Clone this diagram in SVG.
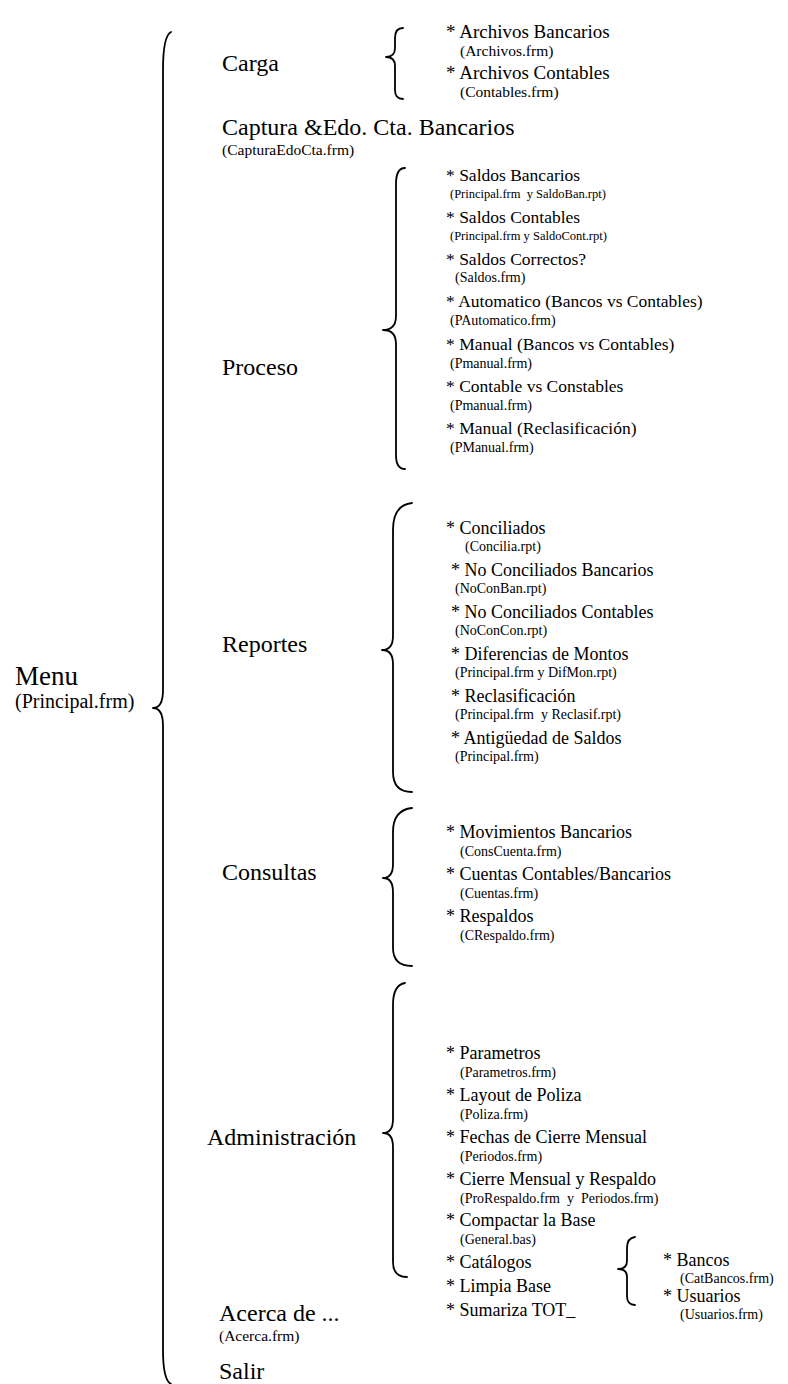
<svg xmlns="http://www.w3.org/2000/svg" width="788" height="1384" viewBox="0 0 788 1384">
  <style>
    text { font-family: "Liberation Serif", "Times New Roman", serif; fill: #000; }
    .root { font-size: 27px; }
    .rootsub { font-size: 20px; }
    .l1 { font-size: 24px; }
    .l1sub { font-size: 15.5px; }
    .leaf { font-size: 18px; }
    .leaf-lg { font-size: 19px; }
    .leaf-sm { font-size: 17.5px; }
    .sub { font-size: 14px; }
    .sub-sm { font-size: 12.5px; }
    .brace { fill: none; stroke: #000; stroke-width: 1.8; stroke-linecap: round; stroke-linejoin: round; }
  </style>
  <rect width="788" height="1384" fill="#fff"/>

  <!-- braces -->
  <g id="connectors">
    <path class="brace" d="M171,32 Q163,36 163,70 L163,690 Q163,708 153,708 Q163,708 163,726 L163,1350 Q163,1380 171,1384"/>
    <path class="brace" d="M403,28 Q395,28 395,38 L395,48 Q395,57 386,57 Q395,57 395,66 L395,90 Q395,99 403,99"/>
    <path class="brace" d="M405,168 Q396,168 396,184 L396,316 Q396,330 383,330 Q396,330 396,344 L396,455 Q396,469 405,469"/>
    <path class="brace" d="M412,503 Q393,505 393,530 L393,636 Q393,650 382,650 Q393,650 393,664 L393,772 Q393,792 412,792"/>
    <path class="brace" d="M412,808 Q393,810 393,832 L393,864 Q393,878 383,878 Q393,878 393,892 L393,948 Q393,966 412,966"/>
    <path class="brace" d="M405,983 Q393,985 393,1005 L393,1119 Q393,1133 383,1133 Q393,1133 393,1147 L393,1262 Q393,1277 407,1277"/>
    <path class="brace" d="M635,1237 Q627,1238 627,1248 L627,1261 Q627,1269 618,1269 Q627,1269 627,1277 L627,1296 Q627,1305 635,1305"/>
  </g>

  <g id="menu">
    <text class="root" x="15" y="685">Menu</text>
    <text class="rootsub" x="15" y="708">(Principal.frm)</text>
  </g>

  <g id="carga">
    <text class="l1" x="222" y="71">Carga</text>
  </g>
  <g id="carga-items">
    <text class="leaf-lg" x="446" y="38">* Archivos Bancarios</text>
    <text class="l1sub" x="460" y="56">(Archivos.frm)</text>
    <text class="leaf-lg" x="446" y="79">* Archivos Contables</text>
    <text class="l1sub" x="460" y="97">(Contables.frm)</text>
  </g>

  <g id="captura">
    <text class="l1" x="222" y="135">Captura &amp;Edo. Cta. Bancarios</text>
    <text class="l1sub" x="222" y="155">(CapturaEdoCta.frm)</text>
  </g>

  <g id="proceso">
    <text class="l1" x="222" y="375">Proceso</text>
  </g>
  <g id="proceso-items">
    <text class="leaf-sm" x="446" y="181">* Saldos Bancarios</text>
    <text class="sub-sm" x="450" y="198" xml:space="preserve">(Principal.frm  y SaldoBan.rpt)</text>
    <text class="leaf-sm" x="446" y="223">* Saldos Contables</text>
    <text class="sub-sm" x="450" y="240">(Principal.frm y SaldoCont.rpt)</text>
    <text class="leaf-sm" x="446" y="265">* Saldos Correctos?</text>
    <text class="sub" x="455" y="282">(Saldos.frm)</text>
    <text class="leaf-sm" x="446" y="307">* Automatico (Bancos vs Contables)</text>
    <text class="sub" x="450" y="325">(PAutomatico.frm)</text>
    <text class="leaf-sm" x="446" y="350">* Manual (Bancos vs Contables)</text>
    <text class="sub" x="450" y="368">(Pmanual.frm)</text>
    <text class="leaf-sm" x="446" y="392">* Contable vs Constables</text>
    <text class="sub" x="450" y="410">(Pmanual.frm)</text>
    <text class="leaf-sm" x="446" y="434">* Manual (Reclasificación)</text>
    <text class="sub" x="450" y="452">(PManual.frm)</text>
  </g>

  <g id="reportes">
    <text class="l1" x="222" y="652">Reportes</text>
  </g>
  <g id="reportes-items">
    <text class="leaf" x="446" y="534">* Conciliados</text>
    <text class="sub" x="465" y="551">(Concilia.rpt)</text>
    <text class="leaf" x="451" y="576">* No Conciliados Bancarios</text>
    <text class="sub" x="455" y="593">(NoConBan.rpt)</text>
    <text class="leaf" x="451" y="618">* No Conciliados Contables</text>
    <text class="sub" x="455" y="635">(NoConCon.rpt)</text>
    <text class="leaf" x="451" y="660">* Diferencias de Montos</text>
    <text class="sub" x="455" y="677">(Principal.frm y DifMon.rpt)</text>
    <text class="leaf" x="451" y="702">* Reclasificación</text>
    <text class="sub" x="455" y="719" xml:space="preserve">(Principal.frm  y Reclasif.rpt)</text>
    <text class="leaf" x="451" y="744">* Antigüedad de Saldos</text>
    <text class="sub" x="455" y="761">(Principal.frm)</text>
  </g>

  <g id="consultas">
    <text class="l1" x="222" y="880">Consultas</text>
  </g>
  <g id="consultas-items">
    <text class="leaf" x="446" y="838">* Movimientos Bancarios</text>
    <text class="sub" x="460" y="856">(ConsCuenta.frm)</text>
    <text class="leaf" x="446" y="880">* Cuentas Contables/Bancarios</text>
    <text class="sub" x="460" y="898">(Cuentas.frm)</text>
    <text class="leaf" x="446" y="922">* Respaldos</text>
    <text class="sub" x="460" y="940">(CRespaldo.frm)</text>
  </g>

  <g id="administracion">
    <text class="l1" x="207" y="1145">Administración</text>
  </g>
  <g id="administracion-items">
    <text class="leaf" x="446" y="1059">* Parametros</text>
    <text class="sub" x="460" y="1077">(Parametros.frm)</text>
    <text class="leaf" x="446" y="1101">* Layout de Poliza</text>
    <text class="sub" x="460" y="1119">(Poliza.frm)</text>
    <text class="leaf" x="446" y="1143">* Fechas de Cierre Mensual</text>
    <text class="sub" x="460" y="1161">(Periodos.frm)</text>
    <text class="leaf" x="446" y="1185">* Cierre Mensual y Respaldo</text>
    <text class="sub" x="460" y="1203" xml:space="preserve">(ProRespaldo.frm  y  Periodos.frm)</text>
    <text class="leaf" x="446" y="1226">* Compactar la Base</text>
    <text class="sub" x="460" y="1244">(General.bas)</text>
    <text class="leaf" x="446" y="1268">* Catálogos</text>
    <text class="leaf" x="446" y="1292">* Limpia Base</text>
    <text class="leaf" x="446" y="1316">* Sumariza TOT_</text>
  </g>

  <g id="catalogos-items">
    <text class="leaf" x="663" y="1266">* Bancos</text>
    <text class="sub" x="680" y="1283">(CatBancos.frm)</text>
    <text class="leaf" x="663" y="1302">* Usuarios</text>
    <text class="sub" x="680" y="1319">(Usuarios.frm)</text>
  </g>

  <g id="acerca">
    <text class="l1" x="219" y="1321">Acerca de ...</text>
    <text class="l1sub" x="219" y="1341">(Acerca.frm)</text>
  </g>

  <g id="salir">
    <text class="l1" x="219" y="1379">Salir</text>
  </g>
</svg>
